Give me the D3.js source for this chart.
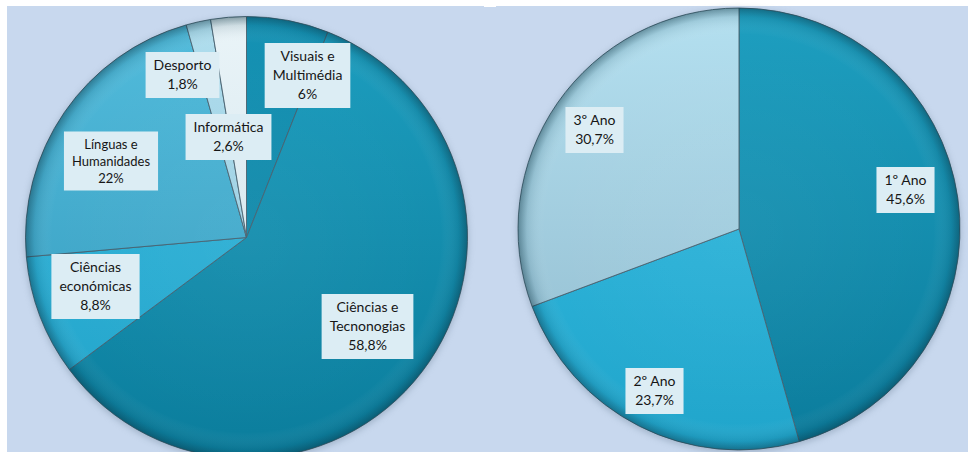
<!DOCTYPE html>
<html>
<head>
<meta charset="utf-8">
<script src="https://cdn.jsdelivr.net/npm/d3@7"></script>
<style>
  html, body { margin: 0; padding: 0; background: #ffffff; }
  svg { display: block; }
</style>
</head>
<body>
<script>
// left pie: areas of study
let areaNames = ["Visuais e\nMultimédia", "Ciências e\nTecnonogias", "Ciências\neconómicas", "Línguas e\nHumanidades", "Desporto", "Informática"];
let areaValues = [6, 58.8, 8.8, 22, 1.8, 2.6];
let areaLabels = ["6%", "58,8%", "8,8%", "22%", "1,8%", "2,6%"];

// right pie: school year
let yearNames = ["1º Ano", "2º Ano", "3º Ano"];
let yearValues = [45.6, 23.7, 30.7];
let yearLabels = ["45,6%", "23,7%", "30,7%"];

let width = 968;
let height = 452;
let svg = d3.select("body").append("svg")
            .attr("width", width)
            .attr("height", height);

let defs = svg.append("defs");

// slice colours, [top, bottom]
let areaColors = [["#1592b4", "#0d809f"], ["#1d9ebf", "#0b7d9c"], ["#36badf", "#22a3c9"],
                  ["#52bcdc", "#3398bb"], ["#b0deee", "#8cc3d8"], ["#eaf4f8", "#c9dfe8"]];
let yearColors = [["#1e9fc0", "#0b7c9c"], ["#38bfe5", "#20a5cb"], ["#b4e0f0", "#8fb9cc"]];

// label box centres (layout only)
let areaLabelPos = [[307.5, 75.5], [367.5, 326.5], [95.5, 286.5], [111, 161], [182.5, 75], [228.5, 137]];
let yearLabelPos = [[905.5, 190], [654.5, 391], [594.5, 130]];

// panel background
svg.append("rect")
   .attr("x", 7).attr("y", 6)
   .attr("width", width - 7).attr("height", height - 6)
   .attr("fill", "#c8d8ee");
svg.append("rect")
   .attr("x", 484).attr("y", 0)
   .attr("width", 12).attr("height", 7)
   .attr("fill", "#ffffff");

function drawPie(id, cx, cy, radius, values, colors) {
  let pie = d3.pie().sort(null).value(d => d);
  let arc = d3.arc().innerRadius(0).outerRadius(radius);
  let g = svg.append("g").attr("transform", "translate(" + cx + "," + cy + ")");

  // soft shadow under the pie
  let blur = defs.append("filter").attr("id", id + "-shadow")
                 .attr("x", "-20%").attr("y", "-20%").attr("width", "140%").attr("height", "140%");
  blur.append("feGaussianBlur").attr("stdDeviation", 3);
  g.append("circle").attr("r", radius + 1).attr("cy", 2)
   .attr("fill", "#7f93a8").attr("opacity", 0.5)
   .attr("filter", "url(#" + id + "-shadow)");

  colors.forEach(function(c, i) {
    let lg = defs.append("linearGradient").attr("id", id + "-grad" + i)
                 .attr("gradientUnits", "userSpaceOnUse")
                 .attr("x1", 0).attr("y1", -radius).attr("x2", 0).attr("y2", radius);
    lg.append("stop").attr("offset", "0%").attr("stop-color", c[0]);
    lg.append("stop").attr("offset", "100%").attr("stop-color", c[1]);
  });

  g.selectAll("path.slice")
   .data(pie(values))
   .join("path")
   .attr("class", "slice")
   .attr("d", arc)
   .attr("fill", (d, i) => "url(#" + id + "-grad" + i + ")")
   .attr("stroke", "#45606e")
   .attr("stroke-width", 0.9)
   .attr("stroke-linejoin", "round");

  // rim shading for the domed look
  let rg = defs.append("radialGradient").attr("id", id + "-rim")
               .attr("gradientUnits", "userSpaceOnUse")
               .attr("cx", 0).attr("cy", 0).attr("r", radius);
  rg.append("stop").attr("offset", "0%").attr("stop-color", "#ffffff").attr("stop-opacity", 0.04);
  rg.append("stop").attr("offset", "88%").attr("stop-color", "#ffffff").attr("stop-opacity", 0);
  rg.append("stop").attr("offset", "96%").attr("stop-color", "#0b3a4c").attr("stop-opacity", 0.12);
  rg.append("stop").attr("offset", "100%").attr("stop-color", "#08303f").attr("stop-opacity", 0.45);
  g.append("circle").attr("r", radius).attr("fill", "url(#" + id + "-rim)").attr("pointer-events", "none");
}

function drawLabels(names, labels, positions, sizes) {
  names.forEach(function(name, i) {
    let lines = name.split("\n").concat([labels[i]]);
    let fs = sizes[i] ? sizes[i][0] : 14;
    let lh = sizes[i] ? sizes[i][1] : 19;
    let g = svg.append("g").attr("transform", "translate(" + positions[i][0] + "," + positions[i][1] + ")");
    let box = g.append("rect").attr("fill", "#dcedf4");
    let text = g.append("text")
                .attr("text-anchor", "middle")
                .attr("font-family", "Lato, 'Open Sans', sans-serif")
                .attr("font-size", fs)
                .attr("fill", "#161616");
    let top = -(lines.length - 1) * lh / 2;
    lines.forEach(function(line, j) {
      text.append("tspan").attr("x", 0).attr("y", top + j * lh).attr("dy", "0.35em").text(line);
    });
    let w = d3.max(text.selectAll("tspan").nodes(), n => n.getComputedTextLength()) + 16;
    let h = lines.length * lh + 8;
    box.attr("x", -w / 2).attr("y", -h / 2).attr("width", w).attr("height", h);
  });
}

drawPie("areas", 246.5, 237.5, 221, areaValues, areaColors);
drawPie("years", 739, 229, 221, yearValues, yearColors);

drawLabels(areaNames, areaLabels, areaLabelPos, [null, null, null, [13, 17], null, null]);
drawLabels(yearNames, yearLabels, yearLabelPos, [null, null, null]);
</script>
</body>
</html>
